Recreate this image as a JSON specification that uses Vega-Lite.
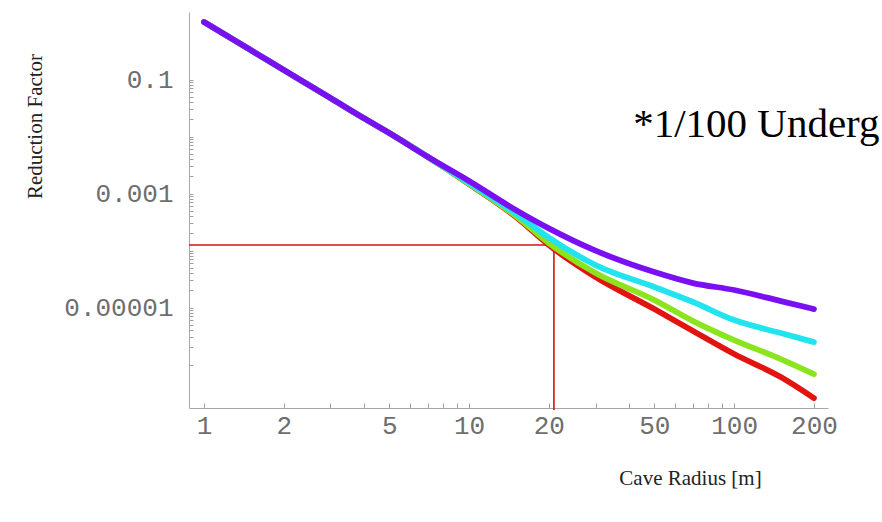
{
  "$schema": "https://vega.github.io/schema/vega-lite/v6.json",
  "width": 639,
  "height": 396,
  "autosize": {"type": "none"},
  "padding": {"left": 189, "top": 12, "right": 54, "bottom": 114},
  "background": "white",
  "config": {"view": {"stroke": null}, "axis": {"grid": false}},
  "datasets": {
    "curves": [
      {"c": "red", "r": 1, "f": 1.02}, {"c": "red", "r": 1.5, "f": 0.329}, {"c": "red", "r": 2, "f": 0.147},
      {"c": "red", "r": 3, "f": 0.0474}, {"c": "red", "r": 4, "f": 0.0211}, {"c": "red", "r": 5, "f": 0.0115},
      {"c": "red", "r": 7, "f": 0.00437}, {"c": "red", "r": 10, "f": 0.00147}, {"c": "red", "r": 15, "f": 0.000392},
      {"c": "red", "r": 20, "f": 0.000125}, {"c": "red", "r": 30, "f": 0.0000343}, {"c": "red", "r": 50, "f": 0.00000941},
      {"c": "red", "r": 70, "f": 0.00000387}, {"c": "red", "r": 100, "f": 0.00000153}, {"c": "red", "r": 150, "f": 6.03e-7},
      {"c": "red", "r": 200, "f": 2.58e-7},

      {"c": "green", "r": 1, "f": 1.02}, {"c": "green", "r": 1.5, "f": 0.329}, {"c": "green", "r": 2, "f": 0.147},
      {"c": "green", "r": 3, "f": 0.0474}, {"c": "green", "r": 4, "f": 0.0211}, {"c": "green", "r": 5, "f": 0.0115},
      {"c": "green", "r": 7, "f": 0.00437}, {"c": "green", "r": 10, "f": 0.00148}, {"c": "green", "r": 15, "f": 0.000405},
      {"c": "green", "r": 20, "f": 0.000135}, {"c": "green", "r": 30, "f": 0.0000403}, {"c": "green", "r": 50, "f": 0.0000135},
      {"c": "green", "r": 70, "f": 0.0000058}, {"c": "green", "r": 100, "f": 0.00000269}, {"c": "green", "r": 150, "f": 0.00000125},
      {"c": "green", "r": 200, "f": 6.8e-7},

      {"c": "cyan", "r": 1, "f": 1.02}, {"c": "cyan", "r": 1.5, "f": 0.329}, {"c": "cyan", "r": 2, "f": 0.147},
      {"c": "cyan", "r": 3, "f": 0.0474}, {"c": "cyan", "r": 4, "f": 0.0211}, {"c": "cyan", "r": 5, "f": 0.0115},
      {"c": "cyan", "r": 7, "f": 0.00437}, {"c": "cyan", "r": 10, "f": 0.00153}, {"c": "cyan", "r": 15, "f": 0.000445},
      {"c": "cyan", "r": 20, "f": 0.000168}, {"c": "cyan", "r": 30, "f": 0.0000557}, {"c": "cyan", "r": 50, "f": 0.0000229},
      {"c": "cyan", "r": 70, "f": 0.0000125}, {"c": "cyan", "r": 100, "f": 0.00000603}, {"c": "cyan", "r": 150, "f": 0.00000357},
      {"c": "cyan", "r": 200, "f": 0.00000248},

      {"c": "purple", "r": 1, "f": 1.02}, {"c": "purple", "r": 1.5, "f": 0.329}, {"c": "purple", "r": 2, "f": 0.147},
      {"c": "purple", "r": 3, "f": 0.0474}, {"c": "purple", "r": 4, "f": 0.0211}, {"c": "purple", "r": 5, "f": 0.0115},
      {"c": "purple", "r": 7, "f": 0.00437}, {"c": "purple", "r": 10, "f": 0.00166}, {"c": "purple", "r": 15, "f": 0.000515},
      {"c": "purple", "r": 20, "f": 0.000245}, {"c": "purple", "r": 30, "f": 0.0000995}, {"c": "purple", "r": 50, "f": 0.000042},
      {"c": "purple", "r": 70, "f": 0.0000269}, {"c": "purple", "r": 100, "f": 0.0000203}, {"c": "purple", "r": 150, "f": 0.000013},
      {"c": "purple", "r": 200, "f": 0.0000094}
    ],
    "marker": [{"r0": 0.878, "r": 20.9, "f": 0.000125, "f0": 1.6e-7}],
    "note": [{"r": 41.6, "f": 0.0098, "t": "*1/100 Underg"}]
  },
  "encoding": {
    "x": {
      "field": "r", "type": "quantitative",
      "scale": {"type": "log", "domain": [0.878, 226], "nice": false},
      "axis": {
        "title": "Cave Radius [m]",
        "values": [1, 2, 3, 4, 5, 6, 7, 8, 9, 10, 20, 30, 40, 50, 60, 70, 80, 90, 100, 200],
        "labelExpr": "indexof([1, 2, 5, 10, 20, 50, 100, 200], datum.value) >= 0 ? format(datum.value, 'd') : ''",
        "labelOverlap": false, "labelFlush": false,
        "labelFont": "Liberation Mono", "labelFontSize": 26, "labelColor": "#6e6e6e",
        "labelPadding": 9, "tickSize": -5, "tickColor": "#a0a0a0", "domainColor": "#a8a8a8",
        "titleFont": "Liberation Serif", "titleFontSize": 21, "titleFontWeight": "normal", "titleColor": "#222222",
        "titleX": 501, "titleY": 70, "titleAlign": "center", "titleBaseline": "middle"
      }
    },
    "y": {
      "field": "f", "type": "quantitative",
      "scale": {"type": "log", "domain": [1.73e-7, 1.53], "nice": false},
      "axis": {
        "title": "Reduction Factor",
        "values": [0.1, 0.09, 0.08, 0.07, 0.06, 0.05, 0.04, 0.03, 0.02, 0.01,
                   0.009, 0.008, 0.007, 0.006, 0.005, 0.004, 0.003, 0.002, 0.001,
                   0.0009, 0.0008, 0.0007, 0.0006, 0.0005, 0.0004, 0.0003, 0.0002, 0.0001,
                   0.00009, 0.00008, 0.00007, 0.00006, 0.00005, 0.00004, 0.00003, 0.00002, 0.00001,
                   0.000009, 0.000008, 0.000007, 0.000006, 0.000005, 0.000004, 0.000003, 0.000002, 0.000001],
        "labelExpr": "datum.value === 0.1 ? '0.1' : datum.value === 0.001 ? '0.001' : datum.value === 0.00001 ? '0.00001' : ''",
        "labelOverlap": false,
        "labelFont": "Liberation Mono", "labelFontSize": 26, "labelColor": "#6e6e6e",
        "labelPadding": 20, "tickSize": -4, "tickColor": "#a0a0a0", "domainColor": "#a8a8a8",
        "titleFont": "Liberation Serif", "titleFontSize": 21, "titleFontWeight": "normal", "titleColor": "#222222",
        "titleX": -154, "titleY": 114, "titleAngle": -90, "titleAlign": "center", "titleBaseline": "middle"
      }
    }
  },
  "layer": [
    {
      "data": {"name": "marker"},
      "mark": {"type": "rule", "color": "#d81010", "strokeWidth": 1.6},
      "encoding": {
        "x": {"field": "r0", "type": "quantitative", "title": "Cave Radius [m]"},
        "x2": {"field": "r"}
      }
    },
    {
      "data": {"name": "marker"},
      "mark": {"type": "rule", "color": "#d81010", "strokeWidth": 1.6, "clip": false},
      "encoding": {
        "y2": {"field": "f0"}
      }
    },
    {
      "data": {"name": "curves"},
      "mark": {"type": "line", "strokeWidth": 5.8, "strokeCap": "round", "strokeJoin": "round", "interpolate": "monotone"},
      "encoding": {
        "color": {
          "field": "c", "type": "nominal",
          "scale": {"domain": ["red", "green", "cyan", "purple"], "range": ["#e21410", "#8ae41e", "#22e4ee", "#7a10f2"]},
          "legend": null
        }
      }
    },
    {
      "data": {"name": "note"},
      "mark": {"type": "text", "font": "Liberation Serif", "fontSize": 41, "color": "#000000", "align": "left", "baseline": "alphabetic"},
      "encoding": {
        "text": {"field": "t"}
      }
    }
  ]
}
